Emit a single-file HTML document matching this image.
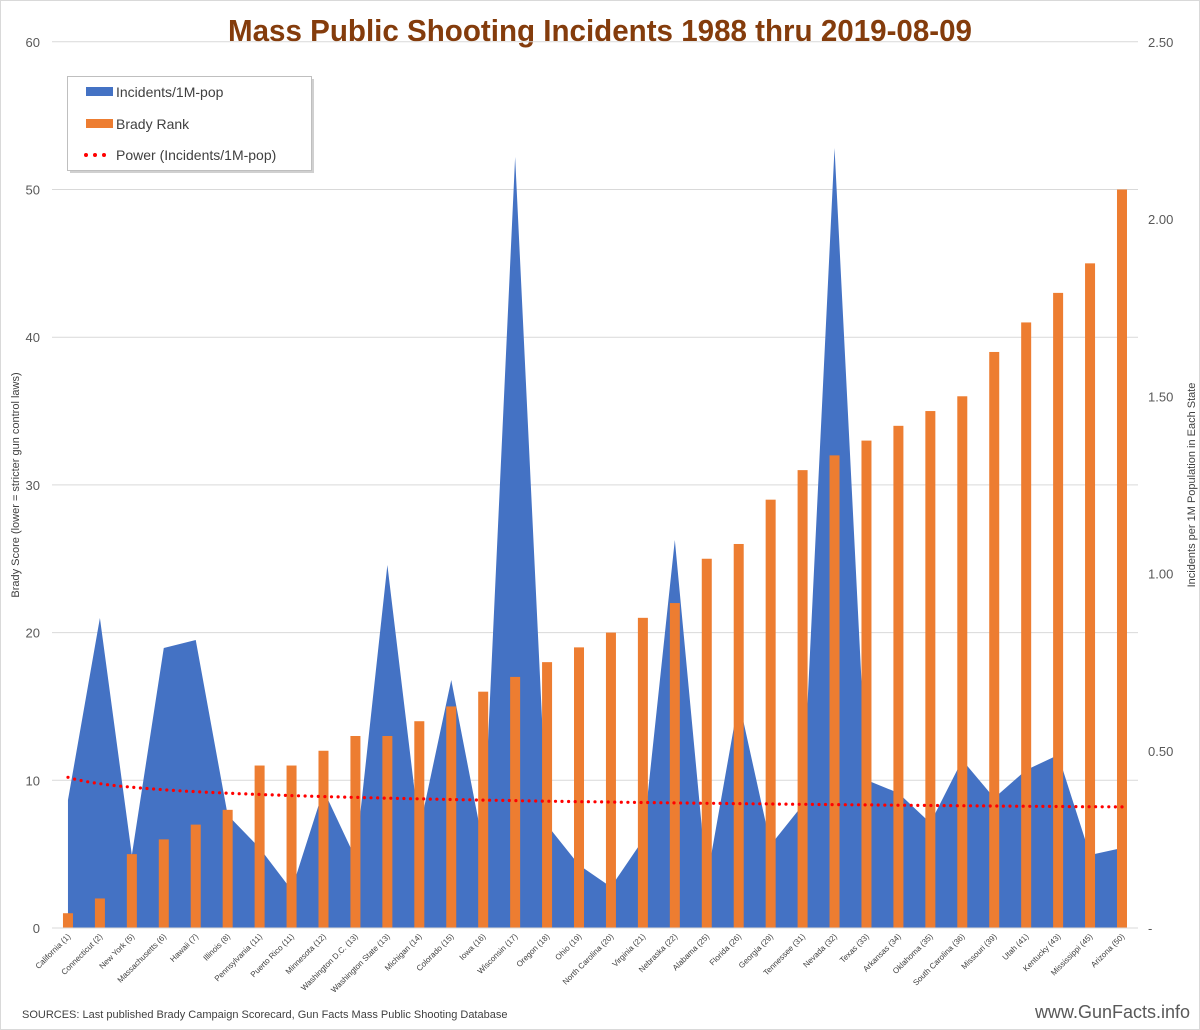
<!DOCTYPE html>
<html><head><meta charset="utf-8"><style>
html,body{margin:0;padding:0;background:#fff}
svg{display:block;font-family:"Liberation Sans",sans-serif}
</style></head><body>
<svg id="s" width="1200" height="1030" viewBox="0 0 1200 1030" xmlns="http://www.w3.org/2000/svg">
<rect x="0.5" y="0.5" width="1199" height="1029" fill="#fff" stroke="#d9d9d9"/>
<text x="600" y="41" text-anchor="middle" font-size="31" font-weight="bold" fill="#843c0c" textLength="744" lengthAdjust="spacingAndGlyphs">Mass Public Shooting Incidents 1988 thru 2019-08-09</text>
<g id="g"></g>
<g>
<rect x="70" y="79" width="244" height="94" fill="#d0d0d0"/>
<rect x="67.5" y="76.5" width="244" height="94" fill="#fff" stroke="#bfbfbf"/>
<rect x="86" y="87" width="27" height="9" fill="#4472c4"/>
<text x="116" y="97" font-size="14" fill="#404040">Incidents/1M-pop</text>
<rect x="86" y="119" width="27" height="9" fill="#ed7d31"/>
<text x="116" y="129" font-size="14" fill="#404040">Brady Rank</text>
<circle cx="86" cy="155" r="2" fill="#f00"/><circle cx="95" cy="155" r="2" fill="#f00"/><circle cx="104" cy="155" r="2" fill="#f00"/>
<text x="116" y="160" font-size="14" fill="#404040">Power (Incidents/1M-pop)</text>
</g>
<text transform="translate(19,485) rotate(-90)" text-anchor="middle" font-size="11" fill="#404040">Brady Score (lower = stricter gun control laws)</text>
<text transform="translate(1195,485) rotate(-90)" text-anchor="middle" font-size="11" fill="#404040">Incidents per 1M Population in Each State</text>
<text x="22" y="1018" font-size="11" fill="#404040">SOURCES: Last published Brady Campaign Scorecard, Gun Facts Mass Public Shooting Database</text>
<text x="1190" y="1018" text-anchor="end" font-size="18" fill="#595959">www.GunFacts.info</text>
</svg>
<script>
var names=["California (1)","Connecticut (2)","New York (5)","Massachusetts (6)","Hawaii (7)","Illinois (8)","Pennsylvania (11)","Puerto Rico (11)","Minnesota (12)","Washington D.C. (13)","Washington State (13)","Michigan (14)","Colorado (15)","Iowa (16)","Wisconsin (17)","Oregon (18)","Ohio (19)","North Carolina (20)","Virginia (21)","Nebraska (22)","Alabama (25)","Florida (26)","Georgia (29)","Tennessee (31)","Nevada (32)","Texas (33)","Arkansas (34)","Oklahoma (35)","South Carolina (36)","Missouri (39)","Utah (41)","Kentucky (43)","Mississippi (45)","Arizona (50)"];
var brady=[1,2,5,6,7,8,11,11,12,13,13,14,15,16,17,18,19,20,21,22,25,26,29,31,32,33,34,35,36,39,41,43,45,50];
var ay=[800,618,855,648,640,815,848,890,790,858,565,830,680,845,157,825,865,887,840,540,880,700,845,805,148,780,793,823,760,798,770,755,855,848];
var X0=52,W=31.94,Y0=928,PU=14.77,h="";
for(var i=0;i<=6;i++){var y=Y0-i*10*PU;h+='<line x1="52" x2="1138" y1="'+y+'" y2="'+y+'" stroke="#d9d9d9"/>';
h+='<text x="40" y="'+(y+5)+'" text-anchor="end" font-size="13" fill="#595959">'+(i*10)+'</text>';}
for(var i=0;i<=5;i++){var y=Y0-i*(886/5);
h+='<text x="1148" y="'+(y+5)+'" font-size="13" fill="#595959">'+(i==0?'-':(i*0.5).toFixed(2))+'</text>';}
var p="M"+(X0+W/2)+","+Y0;
for(var i=0;i<34;i++){p+=" L"+(X0+W/2+i*W)+","+ay[i];}
p+=" L"+(X0+W/2+33*W)+","+Y0+" Z";
h+='<path d="'+p+'" fill="#4472c4"/>';
for(var i=0;i<34;i++){var cx=X0+W/2+i*W,bh=brady[i]*PU;
h+='<rect x="'+(cx-5)+'" y="'+(Y0-bh)+'" width="10" height="'+bh+'" fill="#ed7d31"/>';
h+='<text transform="translate('+(cx+3)+',937) rotate(-45)" text-anchor="end" font-size="8" fill="#404040">'+names[i]+'</text>';}
for(var k=0;k<=160;k++){var n=1+k*33/160,v=10.2*Math.pow(n,-0.062),x=X0+W/2+(n-1)*W;
h+='<circle cx="'+x.toFixed(1)+'" cy="'+(Y0-v*PU).toFixed(1)+'" r="1.6" fill="#f00"/>';}
h+='<line x1="52" x2="1138" y1="928" y2="928" stroke="#d9d9d9"/>';
document.getElementById("g").innerHTML=h;
</script>
</body></html>
